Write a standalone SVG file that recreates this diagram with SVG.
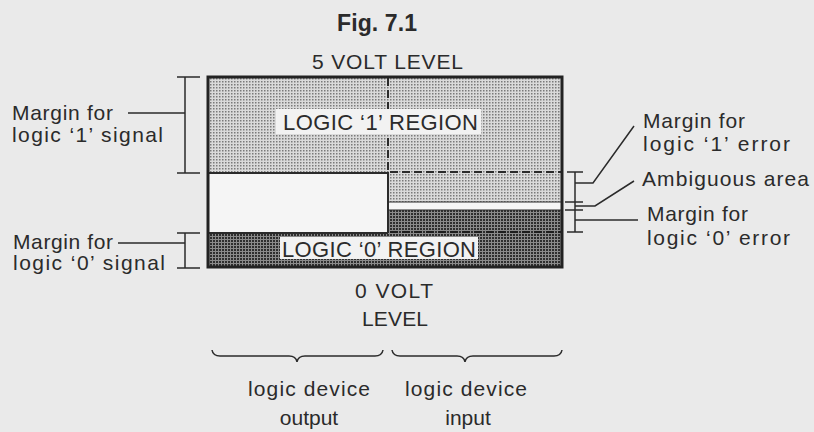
<svg xmlns="http://www.w3.org/2000/svg" width="814" height="432" viewBox="0 0 814 432">
<style>
  text { font-family: "Liberation Sans", Arial, sans-serif; fill: #2b2b2b; }
  .lbl { font-size: 21px; }
  .big { font-size: 22px; }
  .ln { stroke: #2b2b2b; stroke-width: 1.5; fill: none; }
  .thin { stroke: #2b2b2b; stroke-width: 1.2; fill: none; }
  .dash { stroke: #2b2b2b; stroke-width: 2; fill: none; stroke-dasharray: 8 4; }
</style>
<defs>
  <pattern id="lt" width="3" height="3" patternUnits="userSpaceOnUse">
    <rect width="3" height="3" fill="#dadada"/>
    <rect width="1.5" height="1.5" fill="#7a7a7a"/>
  </pattern>
  <pattern id="dk" width="3" height="3" patternUnits="userSpaceOnUse">
    <rect width="3" height="3" fill="#8a8a8a"/>
    <rect width="2" height="2" fill="#2e2e2e"/>
  </pattern>
</defs>
<rect width="814" height="432" fill="#eaeaea"/>

<g id="title">
  <text x="377" y="31" text-anchor="middle" style="font-size:23px;font-weight:bold" textLength="80">Fig. 7.1</text>
</g>

<g id="chart">
  <rect x="208" y="77" width="354" height="96" fill="url(#lt)"/>
  <rect x="388" y="77" width="174" height="125" fill="url(#lt)"/>
  <rect x="208" y="173" width="180" height="60" fill="#f5f5f5"/>
  <rect x="388" y="202" width="174" height="8" fill="#f5f5f5"/>
  <rect x="388" y="210" width="174" height="23" fill="url(#dk)"/>
  <rect x="208" y="233" width="354" height="34" fill="url(#dk)"/>
  <line class="dash" x1="388" y1="78" x2="388" y2="172"/>
  <line class="ln" x1="388" y1="172" x2="388" y2="233" style="stroke-width:2"/>
  <line class="ln" x1="208" y1="173" x2="388" y2="173" style="stroke-width:2"/>
  <line class="dash" x1="390" y1="172" x2="562" y2="172"/>
  <line class="thin" x1="388" y1="202" x2="562" y2="202"/>
  <line class="thin" x1="388" y1="210" x2="562" y2="210"/>
  <line class="dash" x1="390" y1="232" x2="562" y2="232" style="stroke:#1e1e1e"/>
  <line class="ln" x1="208" y1="233" x2="388" y2="233" style="stroke-width:2"/>
  <rect x="208" y="77" width="354" height="190" fill="none" stroke="#222" stroke-width="3"/>
  <rect x="276" y="109" width="205" height="25" fill="#f2f2f2"/>
  <text class="big" x="283" y="130" textLength="195">LOGIC ‘1’ REGION</text>
  <rect x="280" y="237" width="198" height="22" fill="#f2f2f2"/>
  <text class="big" x="282" y="257" textLength="194">LOGIC ‘0’ REGION</text>
</g>

<g id="level5">
  <text class="lbl" x="312" y="69" textLength="151">5 VOLT LEVEL</text>
</g>
<g id="level0">
  <text class="lbl" x="355" y="298" textLength="78">0 VOLT</text>
  <text class="lbl" x="362" y="326" textLength="66">LEVEL</text>
</g>

<g id="margin1signal">
  <text class="lbl" x="12" y="120" textLength="101">Margin for</text>
  <text class="lbl" x="12" y="142" textLength="151">logic ‘1’ signal</text>
</g>
<g id="margin0signal">
  <text class="lbl" x="13" y="249" textLength="100">Margin for</text>
  <text class="lbl" x="13" y="270" textLength="152">logic ‘0’ signal</text>
</g>
<g id="margin1error">
  <text class="lbl" x="643" y="128" textLength="102">Margin for</text>
  <text class="lbl" x="643" y="151" textLength="147">logic ‘1’ error</text>
</g>
<g id="ambiguous">
  <text class="lbl" x="642" y="186" textLength="167">Ambiguous area</text>
</g>
<g id="margin0error">
  <text class="lbl" x="647" y="221" textLength="101">Margin for</text>
  <text class="lbl" x="647" y="245" textLength="143">logic ‘0’ error</text>
</g>
<g id="output">
  <text class="lbl" x="248" y="396" textLength="122">logic device</text>
  <text class="lbl" x="309" y="425" text-anchor="middle">output</text>
</g>
<g id="input">
  <text class="lbl" x="405" y="396" textLength="122">logic device</text>
  <text class="lbl" x="468" y="425" text-anchor="middle">input</text>
</g>

<g id="connectors">
  <path class="ln" d="M177,77 H200 M185,77 V173 M177,173 H200 M128,113 H185"/>
  <path class="ln" d="M177,233 H200 M185,233 V268 M177,268 H200 M118,243 H185"/>
  <path class="ln" d="M567,172 H583 M575,172 V202 M565,202 H583 M575,202 V210 M565,210 H583 M575,210 V232 M567,232 H583"/>
  <path class="ln" d="M575,183 H593 L634,126"/>
  <path class="ln" d="M575,206 H595 L634,181"/>
  <path class="ln" d="M575,220 H638"/>
  <path class="ln" d="M212,350 Q213,356 220,356 L289,356 Q296,356 297,362 Q298,356 305,356 L375,356 Q382,356 383,350"/>
  <path class="ln" d="M392,350 Q393,356 400,356 L457,356 Q464,356 465,362 Q466,356 473,356 L554,356 Q561,356 562,350"/>
</g>
</svg>
